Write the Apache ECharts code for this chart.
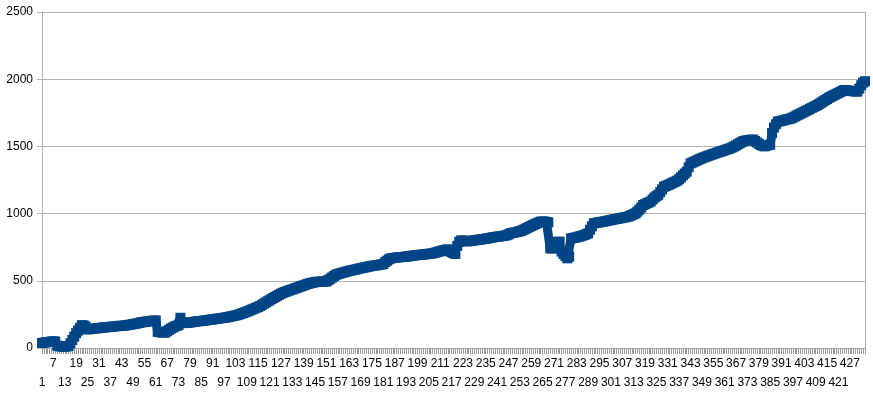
<!DOCTYPE html>
<html>
<head>
<meta charset="utf-8">
<script src="https://cdn.jsdelivr.net/npm/echarts@6/dist/echarts.min.js"></script>
<style>
  html, body { margin: 0; padding: 0; background: #fff; }
  #chart { width: 873px; height: 397px; }
</style>
</head>
<body>
<div id="chart"></div>
<script>
// values, one per category (1..435)
const values = [
  37, 40, 42, 44, 46, 48, 50, 48,
  18, 14, 12, 10, 10, 12, 15,
  35, 60, 85, 110, 130, 150, 170,
  168, 160, 138,
  140, 142, 143, 145, 147, 148, 150,
  152, 153, 155, 156, 158, 158, 160, 162, 163, 165,
  165, 166, 168, 170, 172, 175, 178, 180, 183, 186, 190,
  192, 194, 196, 198, 200, 202, 204, 205,
  120, 118, 116, 115, 115,
  125, 135, 145, 152, 160, 165, 170,
  225,
  190, 185, 186, 188, 190, 192, 194, 196, 198, 200,
  201, 203, 205, 207, 209, 211, 213, 215, 217, 219,
  221, 223, 225, 227, 230, 233, 236, 239, 242, 245,
  250, 255, 260, 265, 270, 276, 282, 288, 294, 300, 305,
  313, 321, 330, 338, 347, 355, 364, 372, 380, 388, 396, 404, 411,
  416, 421, 426, 431, 436, 441, 446, 451, 456, 461,
  466, 471, 476, 480, 484, 487, 490, 493,
  493, 494, 494, 495, 495,
  505, 515, 525, 535, 545, 550,
  554, 558, 562, 566, 570, 574, 577, 580, 583, 586, 590, 593,
  596, 599, 602, 605, 608, 611, 613, 615, 617, 619, 622, 625,
  640, 650, 660, 667,
  669, 671, 673, 675, 676, 677, 678, 680, 682, 684, 686, 688, 690, 692,
  693, 694, 695, 697, 699, 701, 702, 704,
  708, 712, 716, 720, 724, 728, 731, 734,
  720, 712, 705, 700,
  760, 790, 800, 800,
  795, 793, 795, 797, 799, 801, 803, 805, 807, 809, 811, 813, 816, 818, 821, 824,
  826, 828, 830, 832, 834, 836, 839, 845, 853,
  856, 859, 862, 865, 869, 873,
  880, 887, 894, 901, 908, 915, 922, 928, 934, 940,
  942, 940, 938, 935,
  742, 740, 745, 760,
  790, 791,
  717, 700, 685, 667, 680,
  816,
  818, 821, 824, 828, 832, 836, 841, 847, 853,
  880, 905, 928,
  930, 933, 936, 938, 940, 943, 946, 949, 952,
  955, 958, 960, 963, 966, 969, 971, 974, 977,
  983, 989, 995, 1002,
  1015, 1030, 1045, 1064, 1070, 1077, 1083, 1090,
  1105, 1120, 1130, 1140, 1160, 1180, 1200,
  1205, 1212, 1218, 1225, 1232, 1238, 1245,
  1256, 1270, 1285, 1298, 1312,
  1345, 1374,
  1380, 1387, 1393, 1400, 1406, 1412, 1418,
  1423, 1428, 1433, 1438, 1443, 1448, 1453,
  1457, 1462, 1467, 1472, 1477, 1482, 1486,
  1493, 1500, 1508, 1516, 1524, 1532, 1540,
  1543, 1545, 1548, 1550, 1551,
  1540, 1530, 1520, 1510,
  1505, 1500, 1505, 1510, 1512, 1600,
  1640, 1665, 1684,
  1687, 1690, 1694, 1698, 1702, 1705, 1708,
  1715, 1722, 1730, 1737, 1744, 1751, 1758,
  1765, 1772, 1780, 1787, 1794, 1801, 1808,
  1817, 1826, 1835, 1844, 1853, 1862, 1870,
  1877, 1884, 1891, 1898, 1905, 1912, 1920,
  1918, 1916, 1914, 1912, 1910, 1909, 1908,
  1930, 1955, 1975, 1985
]

// categories are just the row numbers 1..N
const categories = values.map((v, i) => String(i + 1))

const yTicks = { min: 0, max: 2500, interval: 500 }

const chart = echarts.init(document.getElementById('chart'))

const gray = '#b3b3b3'

chart.setOption({
  animation: false,
  grid: {
    left: 42,
    right: 8,
    top: 12,
    bottom: 49,
    containLabel: false,
  },
  xAxis: [
    {
      type: 'category',
      data: categories,
      boundaryGap: false,
      axisLine: { lineStyle: { color: gray, width: 1 } },
      axisTick: { show: false },
      axisLabel: {
        interval: 5,
        margin: 6,
        color: '#000',
        fontFamily: 'Liberation Sans, Arial, sans-serif',
        fontSize: 12,
        lineHeight: 19,
        // staggered labels: every other shown label drops to a second row
        formatter: (value, index) => (index % 12 === 0 ? '\n' + value : value),
      },
    },
    {
      // same span as the rows, only here to draw one tick per row (grey comb)
      type: 'value',
      position: 'bottom',
      min: 0,
      max: categories.length - 1,
      interval: 1,
      axisLine: { show: false },
      axisLabel: { show: false },
      splitLine: { show: false },
      axisTick: { show: true, length: 6, lineStyle: { color: '#999999', width: 1 } },
    },
  ],
  yAxis: [
    {
      type: 'value',
      min: yTicks.min,
      max: yTicks.max,
      interval: yTicks.interval,
      axisLine: { show: true, lineStyle: { color: gray } },
      axisTick: { show: true, length: 5, lineStyle: { color: gray } },
      splitLine: { lineStyle: { color: gray } },
      axisLabel: {
        margin: 9,
        color: '#000',
        fontFamily: 'Liberation Sans, Arial, sans-serif',
        fontSize: 12,
        formatter: (v) => String(v),
      },
    },
    {
      // right edge of the plot frame
      type: 'value',
      position: 'right',
      min: yTicks.min,
      max: yTicks.max,
      interval: yTicks.interval,
      axisLine: { show: true, lineStyle: { color: gray } },
      axisTick: { show: false },
      axisLabel: { show: false },
      splitLine: { show: false },
    },
  ],
  series: [
    {
      type: 'line',
      data: values,
      symbol: 'rect',
      symbolSize: 10,
      showAllSymbol: true,
      itemStyle: { color: '#004586' },
      lineStyle: { color: '#004586', width: 9 },
    },
  ],
})
</script>
</body>
</html>
